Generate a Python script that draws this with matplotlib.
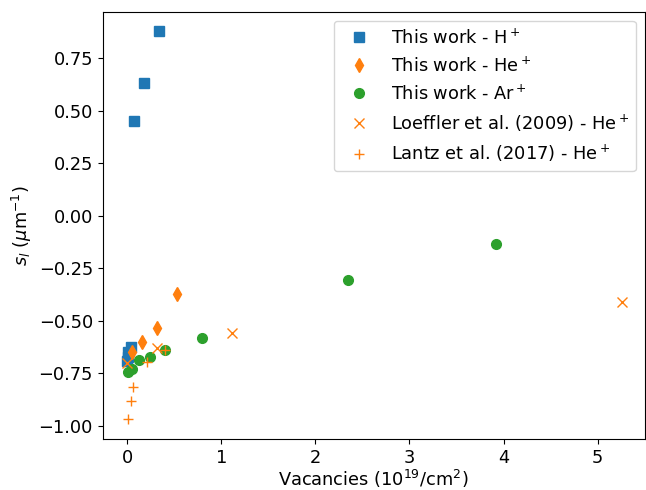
import matplotlib
matplotlib.use("Agg")
import matplotlib.pyplot as plt

plt.rcParams['font.size'] = 12.8

# This work - H+
h_x = [0.077, 0.177, 0.342, 0.045, 0.010, 0.005, 0.003]
h_y = [0.450, 0.630, 0.880, -0.625, -0.650, -0.672, -0.692]
# This work - He+
he_x = [0.056, 0.162, 0.321, 0.526]
he_y = [-0.648, -0.600, -0.534, -0.375]
# This work - Ar+
ar_x = [0.010, 0.050, 0.127, 0.244, 0.403, 0.791, 2.345, 3.920]
ar_y = [-0.747, -0.732, -0.689, -0.673, -0.640, -0.584, -0.309, -0.137]
# Loeffler et al. (2009) - He+
lo_x = [0.003, 0.321, 1.119, 5.260]
lo_y = [-0.703, -0.629, -0.557, -0.413]
# Lantz et al. (2017) - He+
la_x = [0.007, 0.039, 0.067, 0.208, 0.403]
la_y = [-0.969, -0.882, -0.814, -0.695, -0.640]

fig = plt.figure(figsize=(6.46, 4.90), dpi=100)
ax = fig.add_axes([0.159, 0.104, 0.839, 0.8715])

ax.plot(h_x, h_y, 's', color='#1f77b4', ms=7, label='This work - H$^+$')
ax.plot(he_x, he_y, 'd', color='#ff7f0e', ms=7, label='This work - He$^+$')
ax.plot(ar_x, ar_y, 'o', color='#2ca02c', ms=7, label='This work - Ar$^+$')
ax.plot(lo_x, lo_y, 'x', color='#ff7f0e', ms=7, label='Loeffler et al. (2009) - He$^+$')
ax.plot(la_x, la_y, '+', color='#ff7f0e', ms=7, label='Lantz et al. (2017) - He$^+$')

ax.set_xlim(-0.26, 5.50)
ax.set_ylim(-1.064, 0.969)
ax.set_yticks([-1.0, -0.75, -0.5, -0.25, 0.0, 0.25, 0.5, 0.75])
ax.set_xlabel('Vacancies (10$^{19}$/cm$^2$)', labelpad=1)
ax.set_ylabel('$s_l$ ($\\mu$m$^{-1}$)', labelpad=3)
ax.legend(loc='upper right')

fig.savefig('out.png', dpi=100)
